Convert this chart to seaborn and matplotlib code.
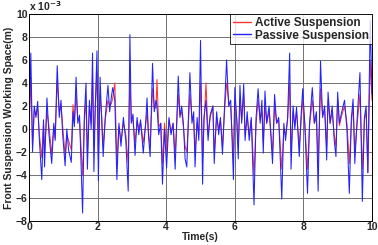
# Front suspension working space: active vs passive suspension over 10 s.
import matplotlib

matplotlib.use("Agg")
import matplotlib.pyplot as plt
import pandas as pd
import seaborn as sns

# values, in units of 1e-3 m
time_s = [0.00, 0.05, 0.10, 0.15, 0.20, 0.25, 0.30, 0.37, 0.42, 0.45,
          0.52, 0.58, 0.66, 0.72, 0.76, 0.82, 0.88, 0.93, 0.98, 1.05,
          1.10, 1.15, 1.23, 1.28, 1.32, 1.37, 1.42, 1.47, 1.56, 1.61,
          1.66, 1.70, 1.76, 1.81, 1.85, 1.89, 1.93, 1.98, 2.02, 2.07,
          2.12, 2.16, 2.22, 2.30, 2.35, 2.40, 2.44, 2.50, 2.56, 2.62,
          2.68, 2.75, 2.82, 2.89, 2.94, 2.98, 3.03, 3.09, 3.15, 3.20,
          3.25, 3.33, 3.40, 3.44, 3.48, 3.53, 3.60, 3.65, 3.70, 3.73,
          3.78, 3.84, 3.89, 3.95, 4.01, 4.08, 4.14, 4.20, 4.26, 4.35,
          4.40, 4.45, 4.50, 4.55, 4.60, 4.69, 4.75, 4.80, 4.84, 4.90,
          4.95, 5.00, 5.06, 5.10, 5.16, 5.22, 5.28, 5.36, 5.40, 5.47,
          5.53, 5.58, 5.64, 5.70, 5.76, 5.82, 5.88, 5.96, 6.00, 6.06,
          6.10, 6.15, 6.20, 6.26, 6.30, 6.36, 6.42, 6.48, 6.56, 6.62,
          6.68, 6.74, 6.79, 6.83, 6.88, 6.93, 7.00, 7.05, 7.10, 7.16,
          7.22, 7.28, 7.37, 7.43, 7.48, 7.54, 7.60, 7.64, 7.70, 7.75,
          7.80, 7.88, 7.93, 7.98, 8.04, 8.12, 8.18, 8.26, 8.32, 8.38,
          8.43, 8.50, 8.56, 8.62, 8.68, 8.72, 8.78, 8.84, 8.90, 8.95,
          9.00, 9.05, 9.12, 9.20, 9.27, 9.34, 9.40, 9.45, 9.50, 9.57,
          9.65, 9.72, 9.78, 9.83, 9.88, 9.95, 10.00]

passive = [0.0, 6.6, -2.0, 2.0, 1.0, 2.4, -1.0, -4.4, 0.8, -3.3,
           2.7, -0.5, -3.0, 0.5, -1.0, 5.5, 1.0, 2.5, -0.5, -3.2,
           0.0, -1.8, -2.9, 1.5, 0.2, 4.5, 0.5, 1.2, -7.3, 1.0,
           4.0, -3.5, 2.5, 0.0, 6.6, -3.7, 2.0, 6.8, -4.5, 4.5,
           0.5, -2.4, 1.0, 3.8, 1.5, 2.8, 3.6, 2.5, -4.4, 0.5,
           -1.5, 1.0, -1.0, -5.4, 8.2, 0.5, 1.3, -2.3, 1.0, -0.5,
           0.8, -2.1, 0.5, 2.7, -0.5, -2.4, 5.7, 1.5, 2.5, 2.0,
           -0.5, 0.5, -4.8, 0.0, -3.4, 1.0, -0.5, 0.5, -3.5, 4.6,
           1.0, 2.0, 0.5, -2.6, -3.3, 4.9, 0.5, 1.5, -3.3, 1.0,
           -1.0, 7.7, -4.8, 1.0, 2.5, -1.0, 1.2, 2.0, -3.0, 1.5,
           -0.5, 1.0, -2.2, 2.0, 6.0, 2.0, 2.5, -4.4, 3.6, 0.5,
           -2.6, 3.8, 0.5, 3.9, -1.0, 1.5, -1.0, 1.0, -6.6, 1.0,
           3.5, 0.5, 2.5, -2.1, 3.3, 0.5, 2.0, -0.5, -3.0, 3.0,
           0.5, 1.0, -6.1, 0.5, -1.0, 1.0, 6.6, -3.5, 2.0, 0.0,
           1.9, -2.4, 1.0, 3.5, 0.5, -5.6, 0.5, 3.6, 0.5, 1.5,
           -5.4, 5.9, 1.0, 2.0, -2.7, 3.2, 0.5, 2.0, -1.0, -2.4,
           3.2, 0.5, 1.5, 2.5, 0.0, -5.6, 1.0, 2.6, -3.0, 1.0,
           4.9, -6.3, 1.0, 2.0, -3.8, 9.5, 3.0]

active = [0.0, 4.5, -1.5, 1.6, 1.2, 1.8, -0.5, -2.5, 0.5, -2.0,
          1.5, 0.2, -2.2, 0.3, -0.8, 4.2, 1.5, 2.0, 0.2, -2.3,
          -0.5, -1.0, -1.8, 2.1, 0.5, 3.0, 0.8, 0.8, -4.0, 0.5,
          2.5, -2.0, 2.0, 0.5, 4.5, -1.5, 1.8, 5.0, -2.5, 3.0,
          1.0, -1.5, 0.8, 2.5, 2.0, 2.2, 2.7, 4.0, -2.8, 0.2,
          -1.0, 0.5, -0.5, -3.0, 4.5, 0.8, 0.7, -1.2, 0.7, 0.0,
          0.6, -1.2, 0.4, 1.5, -0.2, -1.5, 3.5, 2.0, 1.8, 4.3,
          0.2, 0.5, -3.0, 0.5, -2.0, 0.8, -0.3, 0.5, -2.2, 3.0,
          1.2, 1.5, 0.2, -1.5, -2.0, 3.0, 1.0, 0.8, -2.0, 0.5,
          -0.5, 4.0, -2.5, 0.5, 4.0, -0.5, 1.0, 2.0, -2.0, 1.0,
          0.0, 0.8, -1.5, 1.5, 4.0, 2.5, 1.8, -2.5, 2.5, 0.8,
          -1.5, 2.5, 0.8, 3.0, -0.5, 1.0, -0.5, 0.8, -4.0, 0.5,
          2.5, 0.8, 1.5, -1.2, 2.0, 0.5, 1.5, -0.3, -2.0, 2.0,
          0.5, 0.8, -3.5, 0.0, -0.5, 0.8, 4.0, -2.0, 1.5, 0.3,
          1.5, -1.5, 0.5, 2.5, 0.5, -3.5, 0.3, 2.5, 0.5, 1.0,
          -3.0, 3.5, 1.2, 1.5, -1.5, 2.5, 0.5, 1.5, -0.5, -1.5,
          2.5, 0.3, 1.2, 2.0, 0.5, -3.0, 0.5, 2.0, -2.0, 0.5,
          3.0, -3.5, 0.8, 1.5, -3.8, 6.0, 2.5]

labels = ["Active Suspension", "Passive Suspension"]
colors = ["#ff3333", "#2222ff"]

df = pd.concat([
    pd.DataFrame({"t": time_s, "y": active, "series": labels[0]}),
    pd.DataFrame({"t": time_s, "y": passive, "series": labels[1]}),
])

sns.set_theme(style="whitegrid")
plt.rcParams["font.family"] = ["Liberation Sans", "DejaVu Sans"]
plt.rcParams["font.weight"] = "bold"

fig = plt.figure(figsize=(3.78, 2.45), dpi=100)
ax = fig.add_axes([0.077, 0.098, 0.907, 0.845])
sns.lineplot(data=df, x="t", y="y", hue="series", hue_order=labels,
             palette=colors, linewidth=0.75, estimator=None,
             sort=False, ax=ax, legend=False)

ax.set_xlim(0, 10)
ax.set_ylim(-8, 10)
ax.set_xticks(range(0, 11, 2))
ax.set_yticks(range(-8, 11, 2))
ax.grid(True, color="#707070", linewidth=0.7)
for s in ax.spines.values():
    s.set_color("black")
    s.set_linewidth(0.7)
ax.tick_params(labelsize=7.5, length=0, pad=1)
for lbl in ax.get_xticklabels() + ax.get_yticklabels():
    lbl.set_fontweight("bold")
ax.set_xlabel("Time(s)", fontsize=7.5, fontweight="bold", labelpad=0)
ax.set_ylabel("Front Suspension Working Space(m)", fontsize=7.5,
              fontweight="bold", labelpad=1)
ax.text(0.0, 1.005, r"x 10$^{-3}$", transform=ax.transAxes, fontsize=7.5,
        fontweight="bold", va="bottom", ha="left")

handles = [plt.Line2D([], [], color=c, lw=1.0) for c in colors]
leg = ax.legend(handles, labels, loc="upper right", fontsize=8.5,
                frameon=True, fancybox=False, borderaxespad=0,
                handlelength=1.6, borderpad=0.25, labelspacing=0.05,
                handletextpad=0.3)
leg.get_frame().set_edgecolor("black")
leg.get_frame().set_linewidth(0.7)
for t in leg.get_texts():
    t.set_fontweight("bold")

fig.savefig("out.png", dpi=100)
